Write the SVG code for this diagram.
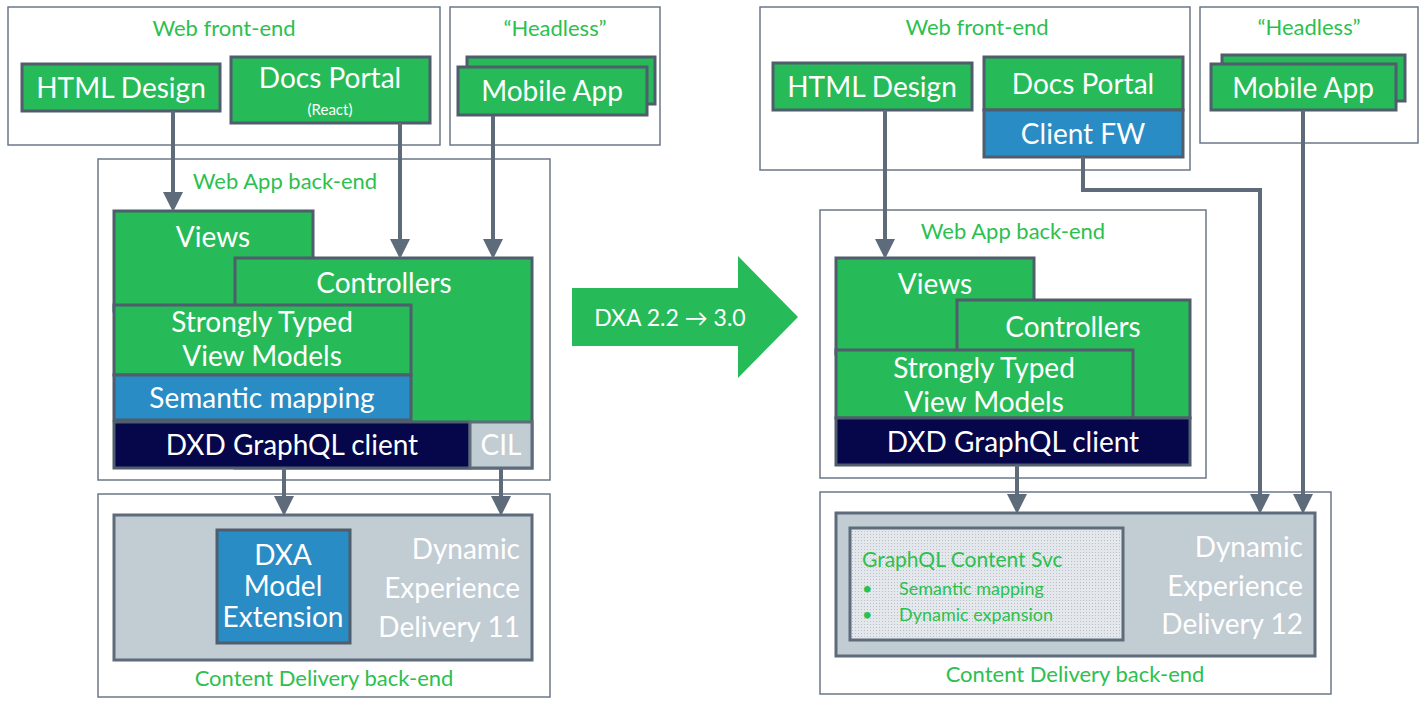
<svg xmlns="http://www.w3.org/2000/svg" width="1425" height="706" viewBox="0 0 1425 706">
<style>
text{font-family:Lato,"Open Sans","Liberation Sans",sans-serif}
.frame{fill:#fff;stroke:#6b7888;stroke-width:1.5}
.g{fill:#26bb58;stroke:#4f5d6c;stroke-width:3}
.b{fill:#2a8cc4;stroke:#4f5d6c;stroke-width:3}
.n{fill:#05074a;stroke:#4f5d6c;stroke-width:3}
.gr{fill:#c2ccd3;stroke:#5d6b7a;stroke-width:3}
.lbl{fill:#2cc04f;font-size:22px;text-anchor:middle}
.w{fill:#fff;font-size:28px;text-anchor:middle}
.dx{fill:#fff;font-size:28px;text-anchor:end}
.c{stroke:#5d6b7a;stroke-width:4;fill:none;marker-end:url(#ah)}
</style>
<defs>
<marker id="ah" markerWidth="5" markerHeight="5" refX="4" refY="2.5" orient="auto" markerUnits="strokeWidth"><path d="M0,0L5,2.5L0,5z" fill="#5d6b7a"/></marker>
<pattern id="dots" width="3" height="3" patternUnits="userSpaceOnUse"><rect width="3" height="3" fill="#e4e8ec"/><rect width="1" height="1" fill="#b8c0c8"/></pattern>
</defs>
<g id="left-web-frontend"><rect class="frame" x="8" y="7" width="432" height="138"/><text class="lbl" x="224" y="36">Web front-end</text></g>
<g id="left-headless"><rect class="frame" x="450" y="7" width="210" height="138"/><text class="lbl" x="555" y="36">“Headless”</text></g>
<g id="left-webapp"><rect class="frame" x="98" y="159" width="452" height="321"/><text class="lbl" x="285" y="189">Web App back-end</text></g>
<g id="left-cd"><rect class="frame" x="98" y="494" width="452" height="203"/><text class="lbl" x="324" y="686">Content Delivery back-end</text></g>
<g id="l-html"><rect class="g" x="22" y="64" width="198" height="47"/><text class="w" x="121" y="98">HTML Design</text></g>
<g id="l-docs"><rect class="g" x="231" y="57" width="199" height="66"/><text class="w" x="330" y="88">Docs Portal</text><text x="330" y="115" fill="#fff" font-size="15" text-anchor="middle">(React)</text></g>
<g id="l-mobile"><rect class="g" x="467" y="57" width="188" height="47"/><rect class="g" x="458" y="67" width="189" height="48"/><text class="w" x="552" y="101">Mobile App</text></g>
<g id="l-views"><rect class="g" x="114" y="211" width="199" height="100"/><text class="w" x="213" y="247">Views</text></g>
<g id="l-controllers"><rect class="g" x="235" y="258" width="297" height="210"/><text class="w" x="384" y="293">Controllers</text></g>
<g id="l-stvm"><rect class="g" x="114" y="305" width="297" height="70"/><text class="w" x="262" y="332" font-size="25">Strongly Typed</text><text class="w" x="262" y="366" font-size="25">View Models</text></g>
<g id="l-sem"><rect class="b" x="114" y="375" width="297" height="45"/><text class="w" x="262" y="408">Semantic mapping</text></g>
<g id="l-dxd"><rect class="n" x="114" y="422" width="356" height="46"/><text class="w" x="292" y="455">DXD GraphQL client</text></g>
<g id="l-cil"><rect class="gr" x="470" y="422" width="62" height="46" fill="#c8d0d6"/><text class="w" x="501" y="455">CIL</text></g>
<g id="l-dxd11"><rect class="gr" x="114" y="515" width="418" height="145"/><text class="dx" x="520" y="559">Dynamic</text><text class="dx" x="520" y="598">Experience</text><text class="dx" x="520" y="637">Delivery 11</text></g>
<g id="l-dxa"><rect class="b" x="217" y="530" width="133" height="113"/><text class="w" x="283" y="565" font-size="21">DXA</text><text class="w" x="283" y="596" font-size="21">Model</text><text class="w" x="283" y="627" font-size="21">Extension</text></g>
<g id="big-arrow"><path d="M572,288H738V256L798,317L738,378V346H572z" fill="#26bb58"/><text x="670" y="326" fill="#fff" font-size="23" text-anchor="middle">DXA 2.2 → 3.0</text></g>
<g id="right-web-frontend"><rect class="frame" x="760" y="7" width="430" height="163"/><text class="lbl" x="977" y="35">Web front-end</text></g>
<g id="right-headless"><rect class="frame" x="1200" y="7" width="218" height="136"/><text class="lbl" x="1309" y="35">“Headless”</text></g>
<g id="right-webapp"><rect class="frame" x="820" y="210" width="386" height="268"/><text class="lbl" x="1013" y="239">Web App back-end</text></g>
<g id="right-cd"><rect class="frame" x="820" y="492" width="511" height="202"/><text class="lbl" x="1075" y="682">Content Delivery back-end</text></g>
<g id="r-html"><rect class="g" x="773" y="63" width="199" height="47"/><text class="w" x="872" y="97">HTML Design</text></g>
<g id="r-docs"><rect class="g" x="984" y="57" width="199" height="53"/><text class="w" x="1083" y="94">Docs Portal</text></g>
<g id="r-clientfw"><rect class="b" x="984" y="110" width="199" height="47"/><text class="w" x="1083" y="144">Client FW</text></g>
<g id="r-mobile"><rect class="g" x="1222" y="55" width="183" height="46"/><rect class="g" x="1211" y="64" width="185" height="46"/><text class="w" x="1303" y="98">Mobile App</text></g>
<g id="r-views"><rect class="g" x="836" y="258" width="198" height="96"/><text class="w" x="935" y="294">Views</text></g>
<g id="r-controllers"><rect class="g" x="957" y="300" width="233" height="118"/><text class="w" x="1073" y="337">Controllers</text></g>
<g id="r-stvm"><rect class="g" x="836" y="350" width="297" height="68"/><text class="w" x="984" y="378" font-size="25">Strongly Typed</text><text class="w" x="984" y="412" font-size="25">View Models</text></g>
<g id="r-dxd"><rect class="n" x="836" y="418" width="354" height="47"/><text class="w" x="1013" y="452">DXD GraphQL client</text></g>
<g id="r-dxd12"><rect class="gr" x="836" y="513" width="479" height="143"/><text class="dx" x="1303" y="557">Dynamic</text><text class="dx" x="1303" y="596">Experience</text><text class="dx" x="1303" y="634">Delivery 12</text></g>
<g id="r-gcs"><rect x="850" y="528" width="273" height="112" fill="url(#dots)" stroke="#5d6b7a" stroke-width="3"/><text x="862" y="567" fill="#2cc04f" font-size="21">GraphQL Content Svc</text><text x="862" y="595" fill="#2cc04f" font-size="18">•</text><text x="899" y="595" fill="#2cc04f" font-size="18">Semantic mapping</text><text x="862" y="621" fill="#2cc04f" font-size="18">•</text><text x="899" y="621" fill="#2cc04f" font-size="18">Dynamic expansion</text></g>
<g id="connectors">
<path class="c" d="M173,111V208"/>
<path class="c" d="M400,123V255"/>
<path class="c" d="M493,116V255"/>
<path class="c" d="M284,468V512"/>
<path class="c" d="M501,468V512"/>
<path class="c" d="M885,110V255"/>
<path class="c" d="M1083,157V190H1260V510"/>
<path class="c" d="M1303,110V510"/>
<path class="c" d="M1017,465V510"/>
</g>
</svg>
